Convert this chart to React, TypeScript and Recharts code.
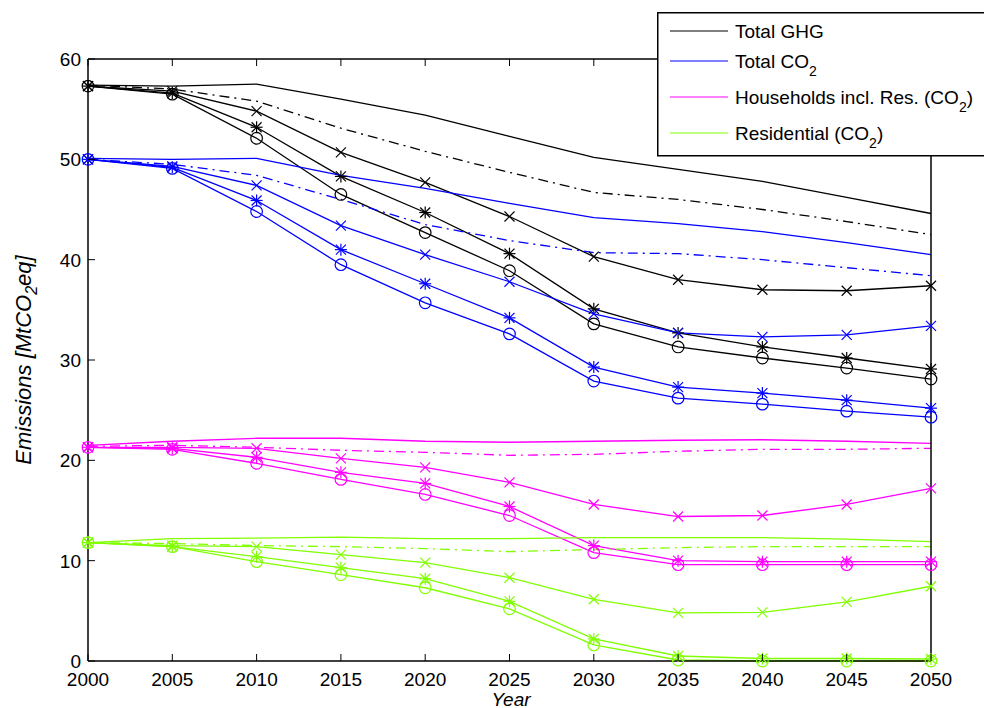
import { LineChart, Line, XAxis, YAxis, Legend } from 'recharts';

const years = [2000, 2005, 2010, 2015, 2020, 2025, 2030, 2035, 2040, 2045, 2050];
const xTicks = [2000, 2005, 2010, 2015, 2020, 2025, 2030, 2035, 2040, 2045, 2050];
const yTicks = [0, 10, 20, 30, 40, 50, 60];

// Total GHG
const ghgBase = [57.4, 57.3, 57.5, 56.0, 54.4, 52.3, 50.2, 49.0, 47.8, 46.2, 44.6];
const ghgDash = [57.4, 57.0, 55.8, 53.1, 50.8, 48.7, 46.7, 46.0, 45.0, 43.8, 42.5];
const ghgCross = [57.3, 56.8, 54.8, 50.7, 47.7, 44.3, 40.3, 38.0, 37.0, 36.9, 37.4];
const ghgStar = [57.3, 56.6, 53.2, 48.3, 44.7, 40.6, 35.1, 32.7, 31.3, 30.2, 29.1];
const ghgCircle = [57.3, 56.5, 52.1, 46.5, 42.7, 38.9, 33.6, 31.3, 30.2, 29.2, 28.1];

// Total CO2
const co2Base = [50.1, 50.0, 50.1, 48.4, 47.1, 45.6, 44.2, 43.6, 42.8, 41.7, 40.5];
const co2Dash = [50.0, 49.5, 48.4, 46.0, 43.5, 41.9, 40.7, 40.6, 40.0, 39.2, 38.4];
const co2Cross = [50.0, 49.3, 47.4, 43.4, 40.5, 37.8, 34.6, 32.7, 32.3, 32.5, 33.4];
const co2Star = [50.0, 49.2, 45.9, 41.0, 37.6, 34.2, 29.3, 27.3, 26.7, 26.0, 25.2];
const co2Circle = [50.0, 49.1, 44.8, 39.5, 35.7, 32.6, 27.9, 26.2, 25.6, 24.9, 24.3];

// Households incl. Res. (CO2)
const hhBase = [21.5, 21.9, 22.2, 22.2, 21.9, 21.8, 21.9, 22.0, 22.05, 21.9, 21.7];
const hhDash = [21.4, 21.5, 21.3, 21.0, 20.8, 20.5, 20.6, 20.9, 21.1, 21.1, 21.2];
const hhCross = [21.3, 21.3, 21.2, 20.2, 19.3, 17.8, 15.6, 14.4, 14.5, 15.6, 17.2];
const hhStar = [21.3, 21.2, 20.3, 18.8, 17.7, 15.4, 11.5, 10.0, 9.9, 9.9, 9.9];
const hhCircle = [21.3, 21.1, 19.7, 18.1, 16.6, 14.5, 10.8, 9.6, 9.6, 9.6, 9.6];

// Residential (CO2)
const resBase = [11.8, 12.2, 12.25, 12.35, 12.2, 12.2, 12.3, 12.3, 12.3, 12.15, 11.9];
const resDash = [11.8, 11.7, 11.5, 11.4, 11.2, 10.9, 11.1, 11.3, 11.4, 11.4, 11.4];
const resCross = [11.8, 11.5, 11.4, 10.6, 9.8, 8.3, 6.15, 4.8, 4.85, 5.9, 7.45];
const resStar = [11.8, 11.4, 10.4, 9.3, 8.2, 5.95, 2.2, 0.5, 0.25, 0.25, 0.2];
const resCircle = [11.8, 11.4, 9.9, 8.6, 7.3, 5.2, 1.6, 0.1, 0.0, 0.0, 0.0];

const groups = [
  { key: 'ghg', color: '#000000', name: 'Total GHG', sub: '', tail: '', series: [ghgBase, ghgDash, ghgCross, ghgStar, ghgCircle] },
  { key: 'co2', color: '#0000ff', name: 'Total CO', sub: '2', tail: '', series: [co2Base, co2Dash, co2Cross, co2Star, co2Circle] },
  { key: 'hh', color: '#ff00ff', name: 'Households incl. Res. (CO', sub: '2', tail: ')', series: [hhBase, hhDash, hhCross, hhStar, hhCircle] },
  { key: 'res', color: '#80ff00', name: 'Residential (CO', sub: '2', tail: ')', series: [resBase, resDash, resCross, resStar, resCircle] },
];

const variants = ['base', 'dash', 'cross', 'star', 'circle'];

const data = years.map((year, i) => {
  const row: Record<string, number> = { year };
  groups.forEach((g) => {
    variants.forEach((v, j) => {
      row[`${g.key}_${v}`] = g.series[j][i];
    });
  });
  return row;
});

const font = '"Liberation Sans", Arial, Helvetica, sans-serif';

function makeMarker(kind: string, color: string) {
  return (props: any) => {
    const { cx, cy, index } = props;
    if (cx == null || cy == null) return <g key={index} />;
    const s = 5;
    if (kind === 'circle') {
      return <circle key={index} cx={cx} cy={cy} r={5.8} fill="none" stroke={color} strokeWidth={1.2} />;
    }
    const cross = (
      <>
        <line x1={cx - s} y1={cy - s} x2={cx + s} y2={cy + s} stroke={color} strokeWidth={1.2} />
        <line x1={cx - s} y1={cy + s} x2={cx + s} y2={cy - s} stroke={color} strokeWidth={1.2} />
      </>
    );
    if (kind === 'cross') return <g key={index}>{cross}</g>;
    return (
      <g key={index}>
        {cross}
        <line x1={cx - 6} y1={cy} x2={cx + 6} y2={cy} stroke={color} strokeWidth={1.2} />
        <line x1={cx} y1={cy - 6} x2={cx} y2={cy + 6} stroke={color} strokeWidth={1.2} />
      </g>
    );
  };
}

const BottomTick = (props: any) => {
  const { x, y, payload } = props;
  return (
    <g>
      <line x1={x} y1={y} x2={x} y2={y - 7} stroke="#000" strokeWidth={1} />
      <text x={x} y={y + 25} textAnchor="middle" fontFamily={font} fontSize={19} fill="#000">
        {payload.value}
      </text>
    </g>
  );
};

const TopTick = (props: any) => {
  const { x, y } = props;
  return <line x1={x} y1={y} x2={x} y2={y + 7} stroke="#000" strokeWidth={1} />;
};

const LeftTick = (props: any) => {
  const { x, y, payload } = props;
  return (
    <g>
      <line x1={x} y1={y} x2={x + 7} y2={y} stroke="#000" strokeWidth={1} />
      <text x={x - 7} y={y + 7} textAnchor="end" fontFamily={font} fontSize={19} fill="#000">
        {payload.value}
      </text>
    </g>
  );
};

const RightTick = (props: any) => {
  const { x, y } = props;
  return <line x1={x} y1={y} x2={x - 7} y2={y} stroke="#000" strokeWidth={1} />;
};

const YLabel = () => (
  <text
    x={31}
    y={360}
    transform="rotate(-90, 31, 360)"
    textAnchor="middle"
    fontFamily={font}
    fontStyle="italic"
    fontSize={22}
    fill="#000"
  >
    Emissions [MtCO<tspan dy={6} fontSize={16}>2</tspan>
    <tspan dy={-6}>eq]</tspan>
  </text>
);

const XLabel = () => (
  <text x={511} y={705.5} textAnchor="middle" fontFamily={font} fontStyle="italic" fontSize={19} fill="#000">
    Year
  </text>
);

const rowY = [31, 61, 97, 133];

const LegendBox = () => (
  <svg width={327} height={146} style={{ display: 'block' }}>
    <rect x={0.75} y={0.75} width={340} height={143} fill="#fff" stroke="#000" strokeWidth={1.5} />
    {groups.map((g, i) => (
      <g key={g.key}>
        <line x1={13} y1={rowY[i] - 12} x2={71} y2={rowY[i] - 12} stroke={g.color} strokeWidth={1.2} />
        <text x={78} y={rowY[i] - 5} fontFamily={font} fontSize={19} fill="#000">
          {g.name}
          {g.sub && (
            <tspan dy={8} fontSize={14}>
              {g.sub}
            </tspan>
          )}
          {g.tail && <tspan dy={-8}>{g.tail}</tspan>}
        </text>
      </g>
    ))}
  </svg>
);

export default function App() {
  return (
    <div style={{ position: 'absolute', left: 0, top: 0, background: '#fff' }}>
      <LineChart width={984} height={708} data={data} margin={{ top: 58, right: 52, bottom: 17, left: 28 }}>
        <XAxis
          xAxisId="b"
          dataKey="year"
          type="number"
          domain={[2000, 2050]}
          ticks={xTicks}
          height={30}
          tickSize={0}
          tickMargin={0}
          tickLine={false}
          tick={<BottomTick />}
          axisLine={{ stroke: '#000', strokeWidth: 1.5 }}
          label={<XLabel />}
        />
        <XAxis
          xAxisId="t"
          dataKey="year"
          type="number"
          orientation="top"
          domain={[2000, 2050]}
          ticks={xTicks}
          height={1}
          tickSize={0}
          tickMargin={0}
          tickLine={false}
          tick={<TopTick />}
          axisLine={{ stroke: '#000', strokeWidth: 1.5 }}
        />
        <YAxis
          yAxisId="l"
          type="number"
          domain={[0, 60]}
          ticks={yTicks}
          width={60}
          tickSize={0}
          tickMargin={0}
          tickLine={false}
          tick={<LeftTick />}
          axisLine={{ stroke: '#000', strokeWidth: 1.5 }}
          label={<YLabel />}
        />
        <YAxis
          yAxisId="r"
          orientation="right"
          type="number"
          domain={[0, 60]}
          ticks={yTicks}
          width={1}
          tickSize={0}
          tickMargin={0}
          tickLine={false}
          tick={<RightTick />}
          axisLine={{ stroke: '#000', strokeWidth: 1.5 }}
        />
        <Legend
          layout="vertical"
          align="center"
          verticalAlign="middle"
          wrapperStyle={{ left: 657, top: 12, width: 327, height: 146 }}
          content={() => <LegendBox />}
        />
        {groups.map((g) =>
          variants.map((v) => (
            <Line
              key={`${g.key}_${v}`}
              xAxisId="b"
              yAxisId="l"
              type="linear"
              dataKey={`${g.key}_${v}`}
              stroke={g.color}
              strokeWidth={1.3}
              strokeDasharray={v === 'dash' ? '10 5 2 5' : undefined}
              dot={v === 'base' || v === 'dash' ? false : makeMarker(v, g.color)}
              activeDot={false}
              legendType="none"
              isAnimationActive={false}
            />
          ))
        )}
      </LineChart>
    </div>
  );
}
